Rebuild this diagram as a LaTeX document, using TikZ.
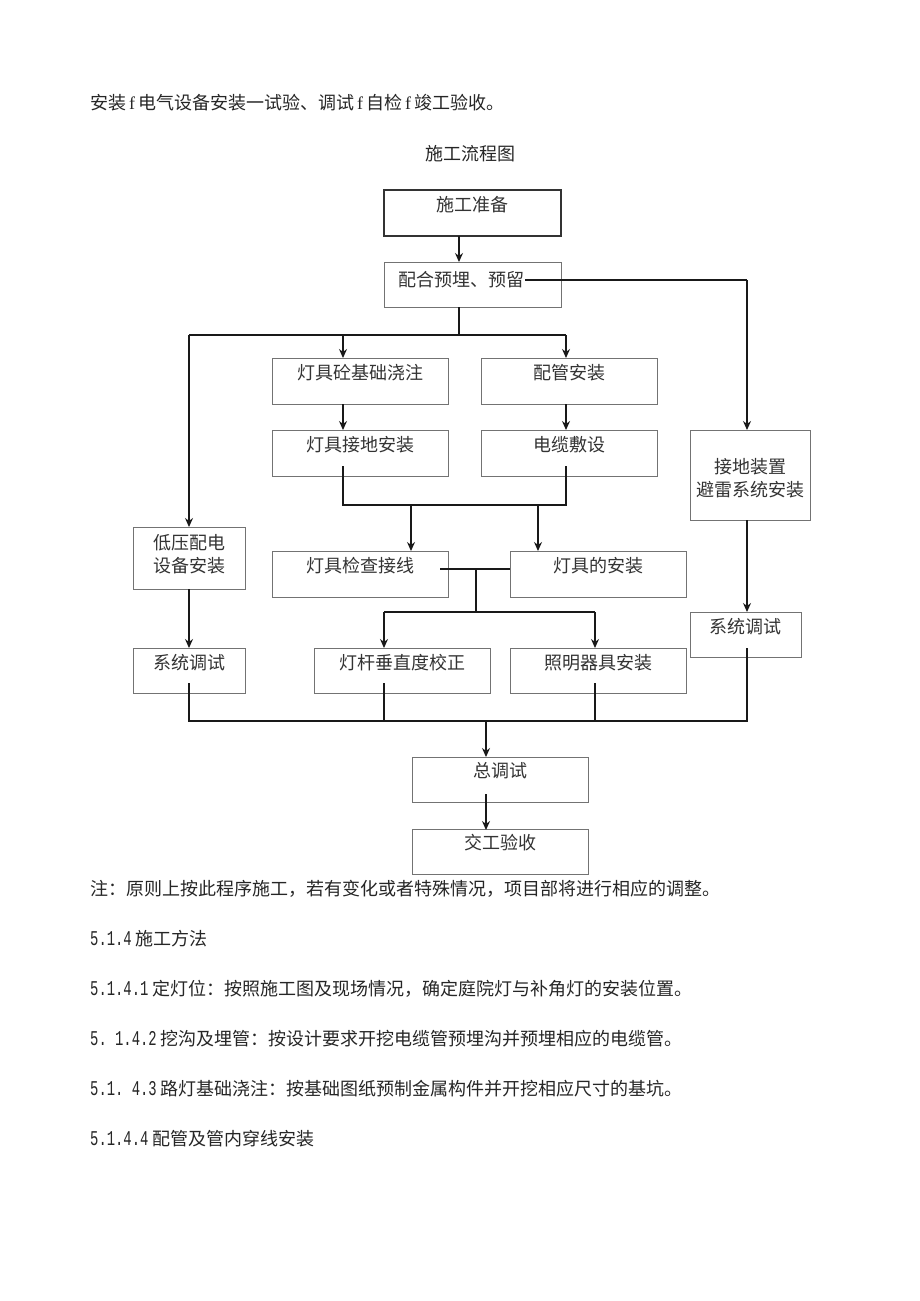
\documentclass[tikz,border=0pt]{standalone}
\usepackage{fontspec}
\usepackage{graphicx}
\setmainfont{Noto Sans CJK SC}
\setmonofont{Liberation Mono}
\newcommand{\dg}[1]{\scalebox{0.66}[1]{\fontsize{21}{24}\selectfont\ttfamily #1}\hspace{4pt}}
\newcommand{\lf}{\,{\fontspec{Liberation Serif}f}\,}
\usetikzlibrary{arrows.meta,calc}
\begin{document}
\begin{tikzpicture}[x=1pt,y=-1pt,
  box/.style={draw=black!55,line width=0.9pt,inner sep=0pt,rectangle},
  mainbox/.style={draw=black!80,line width=1.5pt,inner sep=0pt,rectangle},
  lbl/.style={inner sep=1pt,font=\fontsize{18}{23}\selectfont,text=black!80,align=center},
  para/.style={anchor=west,inner sep=0pt,font=\fontsize{18}{21}\selectfont,text=black!85},
  conn/.style={draw=black!90,line width=1.3pt},
  arr/.style={conn,-{Stealth[length=9pt,width=8pt]}}]
\useasboundingbox (0,0) rectangle (920,1301);
\fill[white] (0,0) rectangle (920,1301);

% page text
\node[para] (p0) at (90,103) {安装\lf 电气设备安装一试验、调试\lf 自检\lf 竣工验收。};
\node[para,anchor=center] (title) at (470,154) {施工流程图};

% boxes
\node[mainbox,minimum width=177,minimum height=46] (sgzb) at (472.5,213) {};
\node[lbl] (sgzb-t) at (472.5,205) {施工准备};
\node[box,minimum width=177,minimum height=45] (phyl) at (472.5,284.5) {};
\node[lbl] (phyl-t) at (461,280) {配合预埋、预留};

\node[box,minimum width=176,minimum height=46] (jcjz) at (360,381) {};
\node[lbl] (jcjz-t) at (360,373) {灯具砼基础浇注};
\node[box,minimum width=176,minimum height=46] (pgaz) at (569,381) {};
\node[lbl] (pgaz-t) at (569,373) {配管安装};

\node[box,minimum width=176,minimum height=46] (jdaz) at (360,453) {};
\node[lbl] (jdaz-t) at (360,445) {灯具接地安装};
\node[box,minimum width=176,minimum height=46] (dlfs) at (569,453) {};
\node[lbl] (dlfs-t) at (569,445) {电缆敷设};

\node[box,minimum width=120,minimum height=90] (jdzz) at (750,475) {};
\node[lbl] (jdzz-t) at (750,478) {接地装置\\避雷系统安装};

\node[box,minimum width=112,minimum height=62] (dypd) at (189,558) {};
\node[lbl] (dypd-t) at (189,554) {低压配电\\设备安装};

\node[box,minimum width=176,minimum height=46] (jcjx) at (360,574) {};
\node[lbl] (jcjx-t) at (360,566) {灯具检查接线};
\node[box,minimum width=176,minimum height=46] (djaz) at (598,574) {};
\node[lbl] (djaz-t) at (598,566) {灯具的安装};

\node[box,minimum width=111,minimum height=45] (xtts2) at (745.5,634.5) {};
\node[lbl] (xtts2-t) at (745.5,627) {系统调试};

\node[box,minimum width=112,minimum height=45] (xtts1) at (189,670.5) {};
\node[lbl] (xtts1-t) at (189,663) {系统调试};
\node[box,minimum width=176,minimum height=45] (dgjz) at (402,670.5) {};
\node[lbl] (dgjz-t) at (402,663) {灯杆垂直度校正};
\node[box,minimum width=176,minimum height=45] (zmqj) at (598,670.5) {};
\node[lbl] (zmqj-t) at (598,663) {照明器具安装};

\node[box,minimum width=176,minimum height=45] (zts) at (500,779.5) {};
\node[lbl] (zts-t) at (500,771) {总调试};
\node[box,minimum width=176,minimum height=45] (jgys) at (500,852) {};
\node[lbl] (jgys-t) at (500,843) {交工验收};

% junction coordinates
\coordinate (j1) at (459,335);
\coordinate (j3) at (476,569);
\coordinate (j4) at (476,612);
\coordinate (j5) at (486,721);

% connectors
\draw[arr] (459,236) -- (459,262);
\draw[conn] (phyl-t.east) -- (747,280) coordinate (r1);
\draw[arr] (r1) -- (747,430);
\draw[conn] (459,307) -- (j1);
\draw[conn] (189,335) -- (566,335);
\draw[arr] (189,335) -- (189,527);
\draw[arr] (343,335) -- (343,358);
\draw[arr] (566,335) -- (566,358);
\draw[arr] (343,404) -- (343,430);
\draw[arr] (566,404) -- (566,430);
\draw[conn] (343,466) -- (343,505) -- (566,505) -- (566,466);
\draw[arr] (411,505) -- (411,551);
\draw[arr] (538,505) -- (538,551);
\draw[conn] (440,569) -- (510,569);
\draw[conn] (j3) -- (j4);
\draw[conn] (384,612) -- (595,612);
\draw[arr] (384,612) -- (384,648);
\draw[arr] (595,612) -- (595,648);
\draw[arr] (189,589) -- (189,648);
\draw[arr] (747,520) -- (747,612);
\draw[conn] (189,683) -- (189,721) -- (747,721) -- (747,648);
\draw[conn] (384,683) -- (384,721);
\draw[conn] (595,683) -- (595,721);
\draw[arr] (j5) -- (486,757);
\draw[arr] (486,794) -- (486,830);

% lower page text
\node[para] (p1) at (90,889) {注：原则上按此程序施工，若有变化或者特殊情况，项目部将进行相应的调整。};
\node[para] (p2) at (90,939) {\dg{5.1.4}施工方法};
\node[para] (p3) at (90,989) {\dg{5.1.4.1}定灯位：按照施工图及现场情况，确定庭院灯与补角灯的安装位置。};
\node[para] (p4) at (90,1039) {\dg{5. 1.4.2}挖沟及埋管：按设计要求开挖电缆管预埋沟并预埋相应的电缆管。};
\node[para] (p5) at (90,1089) {\dg{5.1. 4.3}路灯基础浇注：按基础图纸预制金属构件并开挖相应尺寸的基坑。};
\node[para] (p6) at (90,1139) {\dg{5.1.4.4}配管及管内穿线安装};
\end{tikzpicture}
\end{document}
